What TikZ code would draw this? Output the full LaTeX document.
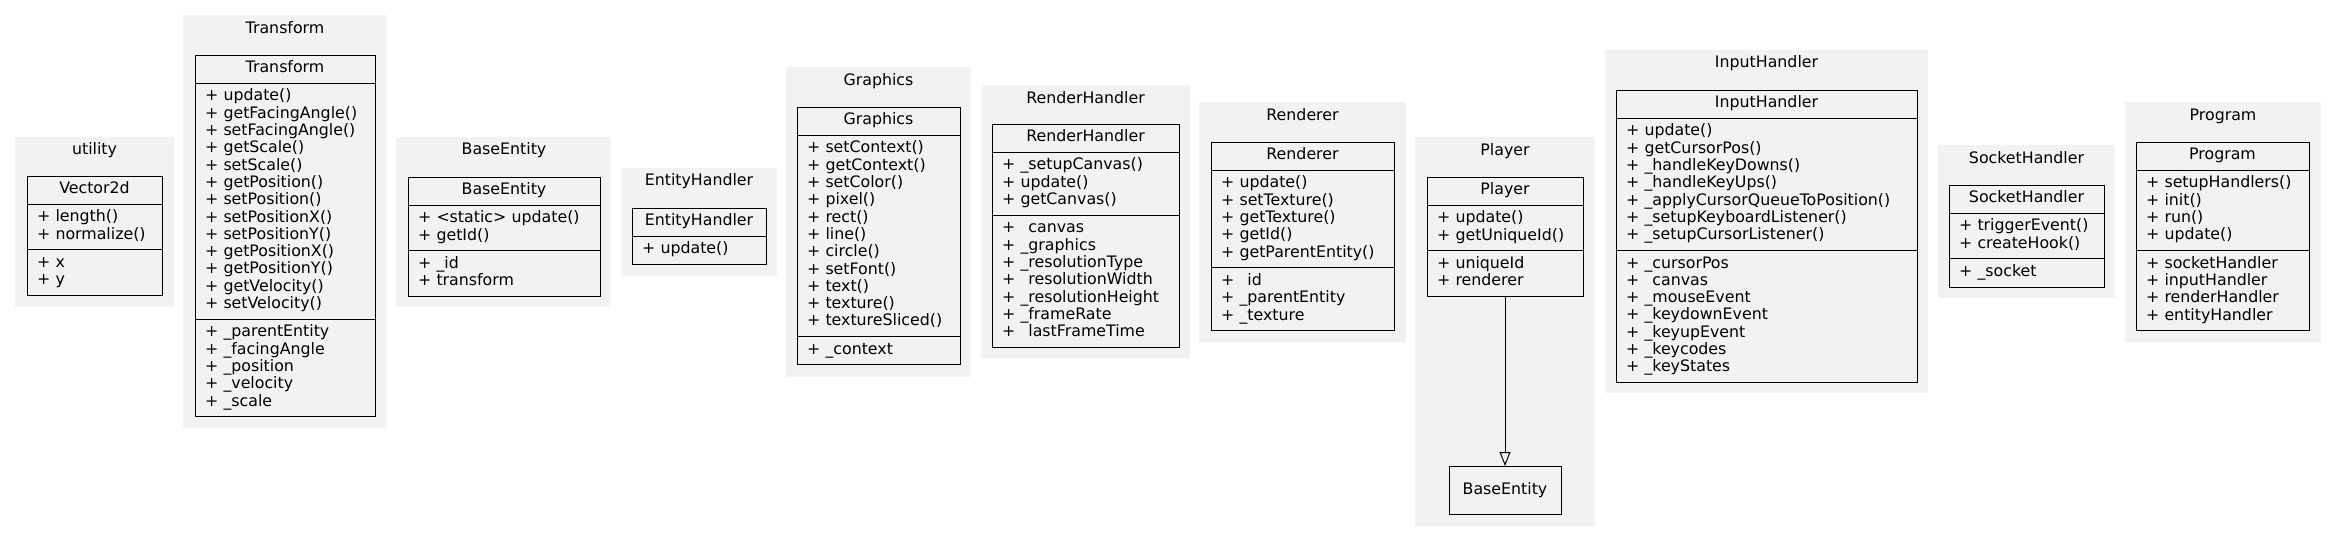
\documentclass[tikz,border=0pt]{standalone}
\usepackage{fontspec}
\setmainfont{DejaVu Sans}
\usetikzlibrary{positioning,arrows.meta}

\definecolor{clustergray}{HTML}{F2F2F2}
\newcommand{\umlfont}{\fontsize{15.8}{17.3}\selectfont}
\newcommand{\hidu}{\phantom{\_}}

\tikzset{
    cluster/.style={fill=clustergray},
    title/.style={font=\umlfont, inner sep=0pt},
    head/.style={draw=black, line width=1pt, outer sep=0pt, inner xsep=10pt,
        inner ysep=5.5pt, font=\umlfont, align=center, text height=12.1pt,
        text depth=5.2pt, anchor=north west},
    members/.style={draw=black, line width=1pt, outer sep=0pt, inner xsep=10pt,
        inner ysep=5.5pt, font=\umlfont, align=left,
        execute at begin node=\noindent\strut, execute at end node=\strut},
    inherit/.style={-{Triangle[open,length=14pt,width=11pt]}, line width=1pt}
}

\begin{document}
\begin{tikzpicture}[x=1pt,y=-1pt]
    \useasboundingbox (0,0) rectangle (2336,541);

    % clusters
    \fill[cluster] (15,137) rectangle (174,307);
    \fill[cluster] (183,15) rectangle (387,428);
    \fill[cluster] (396,137) rectangle (611,307);
    \fill[cluster] (621,168) rectangle (777,276);
    \fill[cluster] (786,67) rectangle (971,377);
    \fill[cluster] (981,85) rectangle (1190,358);
    \fill[cluster] (1199,102) rectangle (1406,342);
    \fill[cluster] (1415,137) rectangle (1595,526);
    \fill[cluster] (1605,50) rectangle (1928,393);
    \fill[cluster] (1938,145) rectangle (2115,298);
    \fill[cluster] (2125,102) rectangle (2321,342);

    % utility
    \node[title] (utilTitle) at (94.5,150) {utility};
    \node[head, text width=115pt] (vecHead) at (27,176) {Vector2d};
    \node[members, text width=115pt, below=0pt of vecHead] (vecOps)
        {+~length()\\+~normalize()};
    \node[members, text width=115pt, below=0pt of vecOps] (vecAttr)
        {+~x\\+~y};

    % Transform
    \node[title] (trTitle) at (285,28) {Transform};
    \node[head, text width=160pt] (trHead) at (195,55) {Transform};
    \node[members, text width=160pt, below=0pt of trHead] (trOps)
        {+~update()\\+~getFacingAngle()\\+~setFacingAngle()\\+~getScale()\\+~setScale()\\
         +~getPosition()\\+~setPosition()\\+~setPositionX()\\+~setPositionY()\\
         +~getPositionX()\\+~getPositionY()\\+~getVelocity()\\+~setVelocity()};
    \node[members, text width=160pt, below=0pt of trOps] (trAttr)
        {+~\_parentEntity\\+~\_facingAngle\\+~\_position\\+~\_velocity\\+~\_scale};

    % BaseEntity
    \node[title] (beTitle) at (504,150) {BaseEntity};
    \node[head, text width=172pt] (beHead) at (408,177) {BaseEntity};
    \node[members, text width=172pt, below=0pt of beHead] (beOps)
        {+~<static>~update()\\+~getId()};
    \node[members, text width=172pt, below=0pt of beOps] (beAttr)
        {+~\_id\\+~transform};

    % EntityHandler
    \node[title] (ehTitle) at (699,181) {EntityHandler};
    \node[head, text width=114pt] (ehHead) at (632,208) {EntityHandler};
    \node[members, text width=114pt, below=0pt of ehHead] (ehOps)
        {+~update()};

    % Graphics
    \node[title] (gfxTitle) at (878.5,81) {Graphics};
    \node[head, text width=143pt] (gfxHead) at (797,107) {Graphics};
    \node[members, text width=143pt, below=0pt of gfxHead] (gfxOps)
        {+~setContext()\\+~getContext()\\+~setColor()\\+~pixel()\\+~rect()\\+~line()\\
         +~circle()\\+~setFont()\\+~text()\\+~texture()\\+~textureSliced()};
    \node[members, text width=143pt, below=0pt of gfxOps] (gfxAttr)
        {+~\_context};

    % RenderHandler
    \node[title] (rhTitle) at (1085.5,98) {RenderHandler};
    \node[head, text width=167pt] (rhHead) at (992,124) {RenderHandler};
    \node[members, text width=167pt, below=0pt of rhHead] (rhOps)
        {+~\_setupCanvas()\\+~update()\\+~getCanvas()};
    \node[members, text width=167pt, below=0pt of rhOps] (rhAttr)
        {+~\hidu canvas\\+~\_graphics\\+~\_resolutionType\\+~\hidu resolutionWidth\\
         +~\_resolutionHeight\\+~\_frameRate\\+~\hidu lastFrameTime};

    % Renderer
    \node[title] (rdTitle) at (1302.5,115) {Renderer};
    \node[head, text width=163pt] (rdHead) at (1211,142) {Renderer};
    \node[members, text width=163pt, below=0pt of rdHead] (rdOps)
        {+~update()\\+~setTexture()\\+~getTexture()\\+~getId()\\+~getParentEntity()};
    \node[members, text width=163pt, below=0pt of rdOps] (rdAttr)
        {+~\hidu id\\+~\_parentEntity\\+~\_texture};

    % Player
    \node[title] (plTitle) at (1505,151) {Player};
    \node[head, text width=136pt] (plHead) at (1427,177) {Player};
    \node[members, text width=136pt, below=0pt of plHead] (plOps)
        {+~update()\\+~getUniqueId()};
    \node[members, text width=136pt, below=0pt of plOps] (plAttr)
        {+~uniqueId\\+~renderer};
    \node[draw=black, line width=1pt, font=\umlfont, minimum width=112pt,
        minimum height=48pt, outer sep=0pt] (plBase) at (1505,490) {BaseEntity};

    \draw[inherit] (plAttr) -- (plBase);

    % InputHandler
    \node[title] (ihTitle) at (1766.5,63) {InputHandler};
    \node[head, text width=281pt] (ihHead) at (1616,90) {InputHandler};
    \node[members, text width=281pt, below=0pt of ihHead] (ihOps)
        {+~update()\\+~getCursorPos()\\+~\_handleKeyDowns()\\+~\_handleKeyUps()\\
         +~\_applyCursorQueueToPosition()\\+~\_setupKeyboardListener()\\
         +~\_setupCursorListener()};
    \node[members, text width=281pt, below=0pt of ihOps] (ihAttr)
        {+~\_cursorPos\\+~\hidu canvas\\+~\_mouseEvent\\+~\_keydownEvent\\
         +~\_keyupEvent\\+~\_keycodes\\+~\_keyStates};

    % SocketHandler
    \node[title] (shTitle) at (2026.5,158) {SocketHandler};
    \node[head, text width=135pt] (shHead) at (1949,185) {SocketHandler};
    \node[members, text width=135pt, below=0pt of shHead] (shOps)
        {+~triggerEvent()\\+~createHook()};
    \node[members, text width=135pt, below=0pt of shOps] (shAttr)
        {+~\_socket};

    % Program
    \node[title] (prTitle) at (2223,116) {Program};
    \node[head, text width=153pt] (prHead) at (2136,142) {Program};
    \node[members, text width=153pt, below=0pt of prHead] (prOps)
        {+~setupHandlers()\\+~init()\\+~run()\\+~update()};
    \node[members, text width=153pt, below=0pt of prOps] (prAttr)
        {+~socketHandler\\+~inputHandler\\+~renderHandler\\+~entityHandler};

\end{tikzpicture}
\end{document}
